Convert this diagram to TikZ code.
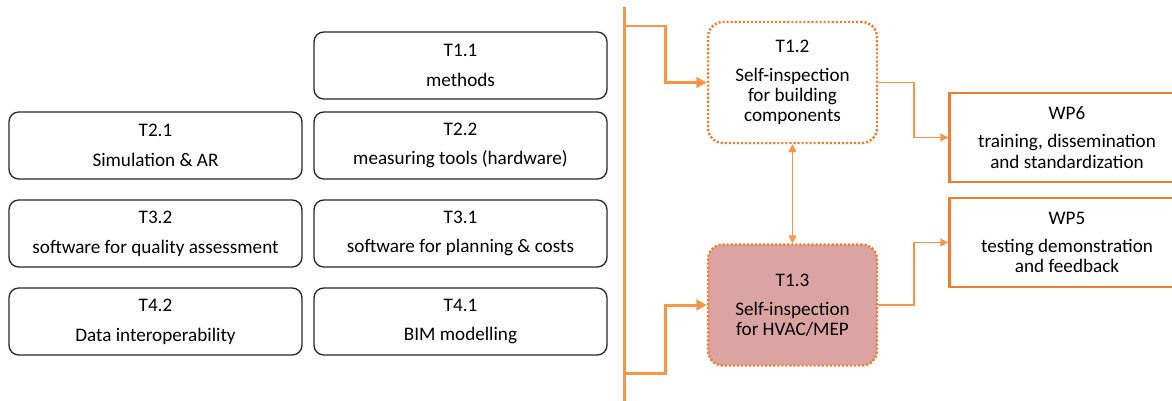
\documentclass[tikz,border=0pt]{standalone}
\usepackage{fontspec}
\setmainfont{Carlito}
\usetikzlibrary{arrows.meta}
\definecolor{lineorange}{HTML}{F79646}
\definecolor{boxorange}{HTML}{ED7D31}
\definecolor{hvacfill}{HTML}{DCA3A3}
\tikzset{
  task/.style={draw=black!85, line width=0.75pt, rounded corners=5.5pt,
    minimum width=5.86cm, minimum height=1.34cm, align=center,
    font=\fontsize{10.9}{11.6}\selectfont},
  selfbox/.style={draw=boxorange, line width=1.4pt, dash pattern=on 1.2pt off 1.1pt,
    rounded corners=8.5pt, minimum width=3.38cm, minimum height=2.42cm,
    align=center, font=\fontsize{10.9}{11.6}\selectfont},
  wpbox/.style={draw=boxorange, line width=1.45pt, minimum width=4.7cm,
    minimum height=1.78cm, align=center, font=\fontsize{10.9}{11.6}\selectfont},
  mainline/.style={lineorange, line width=1.7pt},
  thinline/.style={lineorange, line width=0.85pt},
}

\begin{document}
\begin{tikzpicture}[x=0.02cm, y=-0.02cm]

\def\gap{\\[5.3pt]}

\useasboundingbox (0,0) rectangle (1172,400);

% task boxes, left and middle column
\node[task] (t11) at (460.5,65.5)  {T1.1\gap methods};
\node[task] (t21) at (155.5,145.5) {T2.1\gap Simulation \& AR};
\node[task] (t22) at (460.5,145.5) {T2.2\gap measuring tools (hardware)};
\node[task] (t32) at (155.5,233.5) {T3.2\gap software for quality assessment};
\node[task] (t31) at (460.5,233.5) {T3.1\gap software for planning \& costs};
\node[task] (t42) at (155.5,321.5) {T4.2\gap Data interoperability};
\node[task] (t41) at (460.5,321.5) {T4.1\gap BIM modelling};

% self-inspection tasks
\node[selfbox] (t12) at (792.5,82.5) {T1.2\\[4.8pt]Self-inspection\\for building\\components};
\node[selfbox, fill=hvacfill] (t13) at (792.5,305) {T1.3\\[4.8pt]Self-inspection\\for HVAC/MEP};

% work packages (cut by the right edge)
\node[wpbox] (wp6) at (1067,137.5) {WP6\\[4.3pt]training, dissemination\\and standardization};
\node[wpbox] (wp5) at (1067,242.5) {WP5\\[4.3pt]testing demonstration\\and feedback};

% orange bar
\coordinate (bartop) at (624,7);
\coordinate (barbot) at (624,402);
\coordinate (tap1) at (624,26);
\coordinate (tap2) at (624,373);
\draw[mainline] (bartop) -- (barbot);

\draw[mainline, -{Triangle[length=6pt,width=6pt]}] (tap1) -| (665,60) |- (t12.west);
\draw[mainline, -{Triangle[length=6pt,width=6pt]}] (tap2) -| (665,330) |- (t13.west);

\draw[thinline, {Triangle[length=4.5pt,width=4.5pt]}-{Triangle[length=4.5pt,width=4.5pt]}] (t12.south) -- (t13.north);

\draw[thinline, -{Triangle[length=4.5pt,width=4.5pt]}] (t12.east) -| (914,110) |- (wp6.west);
\draw[thinline, -{Triangle[length=4.5pt,width=4.5pt]}] (t13.east) -| (914,270) |- (wp5.west);

\end{tikzpicture}
\end{document}
